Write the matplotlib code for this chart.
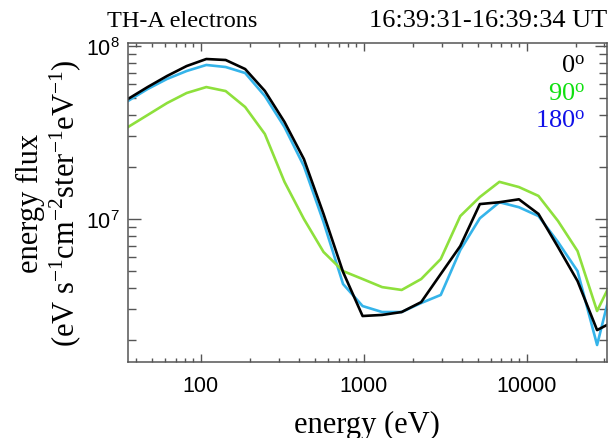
import matplotlib
matplotlib.use("Agg")
import matplotlib.pyplot as plt
from matplotlib.ticker import LogLocator, NullFormatter, FuncFormatter

plt.rcParams["font.family"] = "Liberation Sans"
plt.rcParams["mathtext.fontset"] = "custom"
plt.rcParams["mathtext.rm"] = "Liberation Serif"
plt.rcParams["mathtext.it"] = "Liberation Serif:italic"
plt.rcParams["mathtext.bf"] = "Liberation Serif:bold"

# energy channels (eV)
energy = [35.7, 47.1, 62.0, 81.8, 108, 142, 187, 247, 326, 429, 566, 746, 983,
          1296, 1708, 2251, 2967, 3911, 5155, 6794, 8955, 11803, 15557, 20505,
          27026, 35620]

# energy flux per pitch angle
flux_0 = [4.94e7, 5.79e7, 6.71e7, 7.66e7, 8.41e7, 8.30e7, 7.36e7, 5.50e7, 3.64e7,
          2.22e7, 1.07e7, 4.94e6, 2.75e6, 2.79e6, 2.90e6, 3.31e6, 4.81e6, 6.98e6,
          1.22e7, 1.25e7, 1.30e7, 1.07e7, 6.89e6, 4.38e6, 2.28e6, 2.61e6]
flux_90 = [3.40e7, 3.99e7, 4.68e7, 5.35e7, 5.79e7, 5.49e7, 4.44e7, 3.10e7, 1.64e7,
           1.00e7, 6.45e6, 5.00e6, 4.50e6, 4.04e6, 3.89e6, 4.50e6, 5.87e6, 1.04e7,
           1.34e7, 1.64e7, 1.53e7, 1.36e7, 9.74e6, 6.53e6, 2.94e6, 5.00e6]
flux_180 = [4.81e7, 5.64e7, 6.45e7, 7.17e7, 7.77e7, 7.56e7, 6.98e7, 5.14e7, 3.40e7,
            2.02e7, 9.61e6, 4.21e6, 3.14e6, 2.90e6, 2.90e6, 3.27e6, 3.64e6, 6.62e6,
            1.01e7, 1.25e7, 1.17e7, 1.04e7, 7.36e6, 5.00e6, 1.87e6, 5.28e6]

labels = ["0", "90", "180"]
text_colors = ["black", "#10e010", "#1010e8"]

fig = plt.figure(figsize=(6.1, 4.39), dpi=100)
ax = fig.add_axes([0.2098, 0.1731, 0.7852, 0.7267])

ax.plot(energy, flux_180, color="#35b4ea", lw=1.9)
ax.plot(energy, flux_90, color="#8ee03c", lw=1.9)
ax.plot(energy, flux_0, color="black", lw=1.9)

ax.set_xscale("log")
ax.set_yscale("log")
ax.set_xlim(35.7, 31070)
ax.set_ylim(1.491e6, 1.041e8)

ax.xaxis.set_major_locator(LogLocator(base=10))
ax.xaxis.set_major_formatter(FuncFormatter(lambda v, p: f"{v:g}"))
ax.xaxis.set_minor_locator(LogLocator(base=10, subs=range(2, 10)))
ax.yaxis.set_minor_locator(LogLocator(base=10, subs=range(2, 10)))
ax.xaxis.set_minor_formatter(NullFormatter())
ax.yaxis.set_minor_formatter(NullFormatter())

for s in ax.spines.values():
    s.set_color("#555555")
    s.set_linewidth(1.1)

ax.tick_params(axis="x", which="major", direction="in", length=6, width=1,
               color="#555555", top=True, labelsize=15.5, pad=9)
ax.tick_params(axis="x", which="minor", direction="in", length=2.8, width=1,
               color="#555555", top=True)
ax.tick_params(axis="y", which="major", direction="in", length=9, width=1,
               color="#555555", right=True, labelsize=15.5, pad=6)
ax.tick_params(axis="y", which="minor", direction="in", length=6, width=1,
               color="#555555", right=True)

for i, (lab, c) in enumerate(zip(labels, text_colors)):
    ax.text(0.954, 0.909 - i * 0.085, lab + r"$^{\rm o}$", color=c,
            fontsize=19, fontfamily="Liberation Serif",
            ha="right", va="baseline", transform=ax.transAxes)

fig.text(107 / 610, 1 - 27 / 439, "TH-A electrons", fontsize=17.5,
         fontfamily="Liberation Serif", ha="left", va="baseline")
fig.text(607 / 610, 1 - 27 / 439, "16:39:31-16:39:34 UT", fontsize=19,
         fontfamily="Liberation Serif", ha="right", va="baseline")

fig.text(367 / 610, 1 - 425 / 439, "energy (eV)", fontsize=22,
         fontfamily="Liberation Serif", ha="center", va="center")
fig.text(49.5 / 610, 1 - 203.5 / 439,
         "energy flux\n(eV s$^{-1}$cm$^{-2}$ster$^{-1}$eV$^{-1}$)",
         fontsize=22, fontfamily="Liberation Serif", rotation=90,
         ha="center", va="center", multialignment="center", linespacing=1.1)

fig.savefig("out.png", dpi=100)
